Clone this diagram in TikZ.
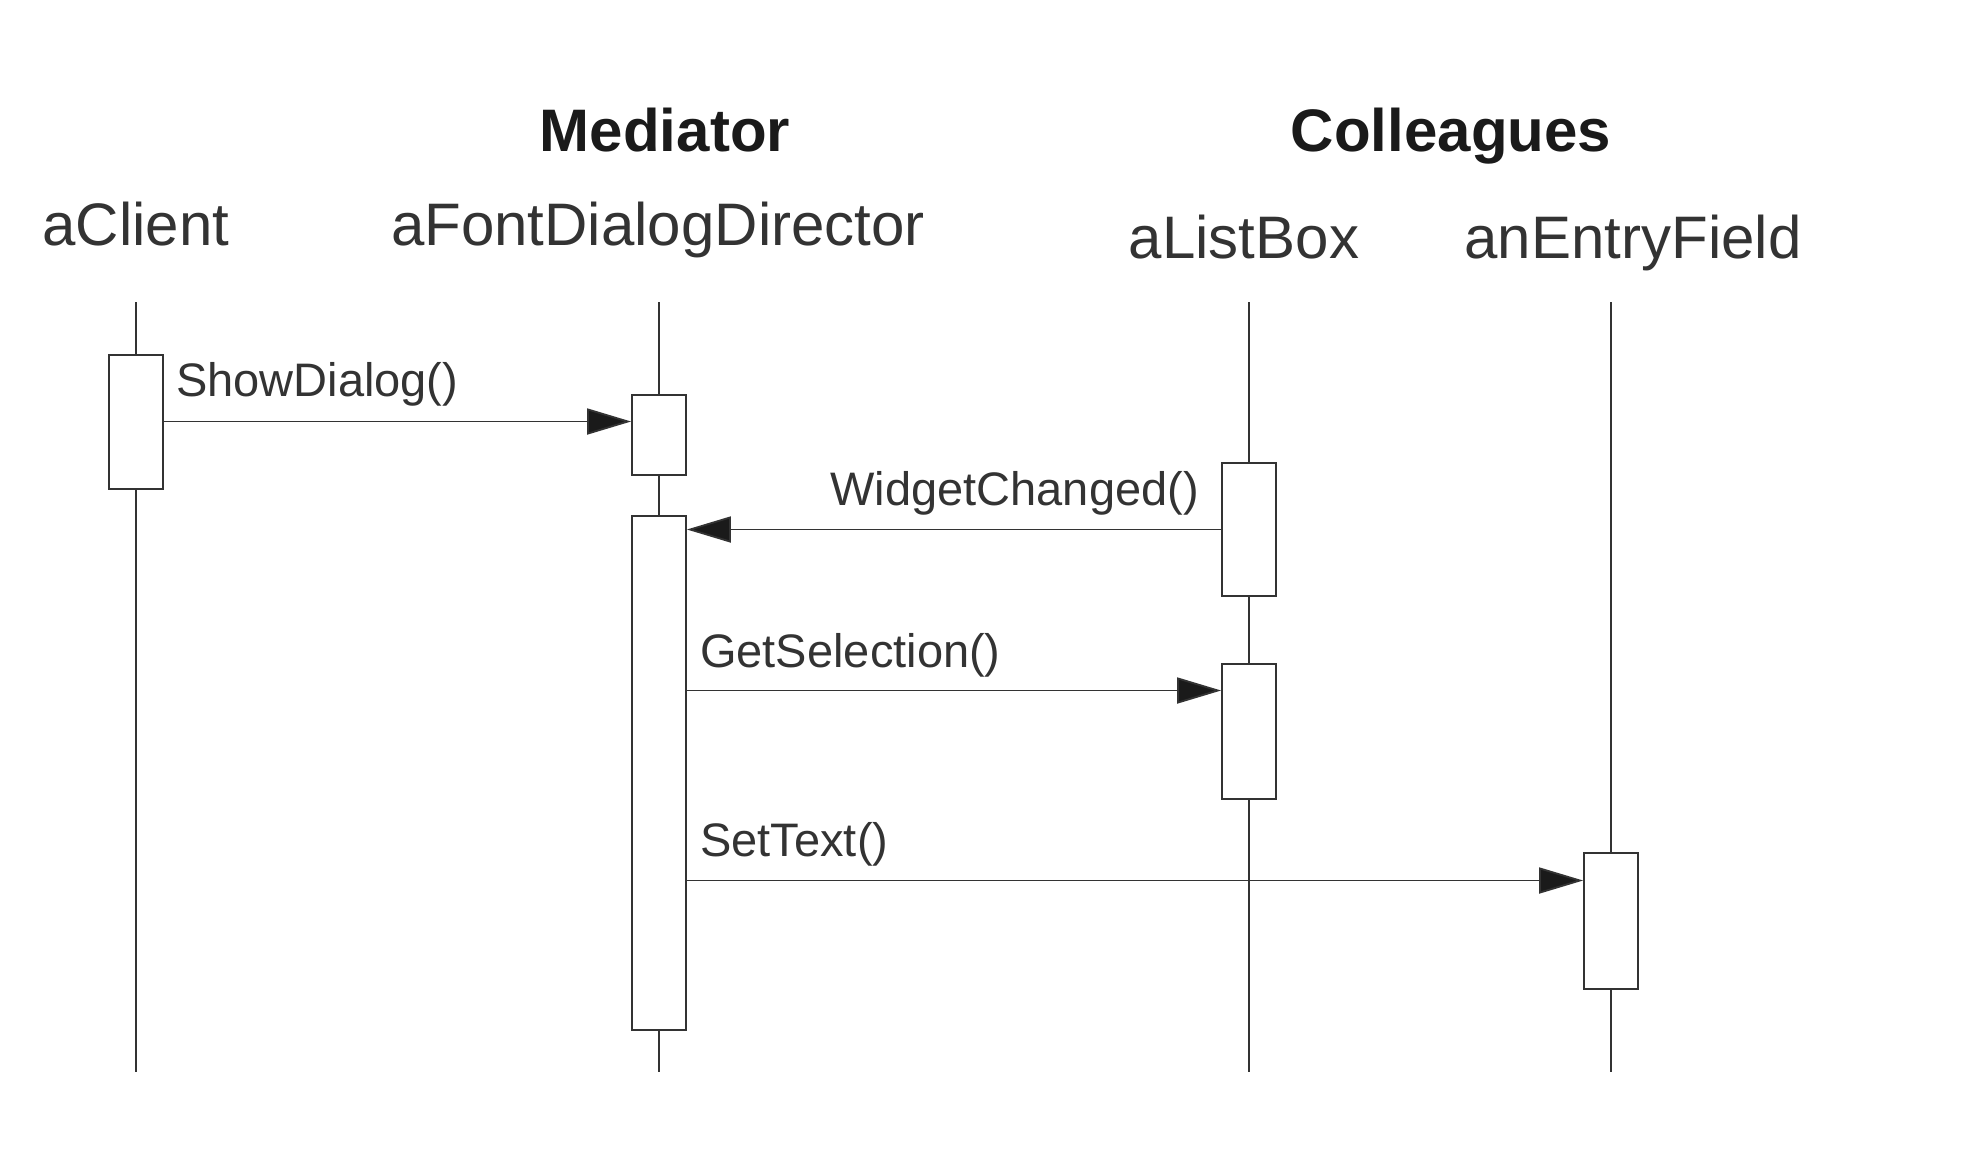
\documentclass[tikz,border=0pt]{standalone}
\usepackage{fontspec}
\setmainfont{Liberation Sans}
\usetikzlibrary{arrows.meta}
\definecolor{ink}{HTML}{333333}
\definecolor{tip}{HTML}{1A1A1A}
\begin{document}
\begin{tikzpicture}[x=1pt,y=-1pt,
  lifeline/.style={draw=ink,line width=1.8pt},
  actbox/.style={draw=ink,line width=1.8pt,fill=white,minimum width=54pt,inner sep=0pt,anchor=center},
  msg/.style={draw=ink,line width=1.8pt,-{Triangle[length=44pt,width=26pt,fill=tip]}},
  objname/.style={font=\fontsize{60}{70}\selectfont,text=ink,anchor=base,inner sep=0pt},
  group/.style={font=\fontsize{60}{70}\selectfont\bfseries,text=tip,anchor=base,inner sep=0pt},
  msglabel/.style={font=\fontsize{47}{56}\selectfont,text=ink,anchor=base,inner sep=0pt}]
\useasboundingbox[fill=white] (0,0) rectangle (1972,1160);
% group headings
\node[group] (med) at (665,151) {Mediator};
\node[group] (col) at (1451,151) {Colleagues};
% object names
\node[objname] (nc) at (136,245) {aClient};
\node[objname] (nd) at (658,245) {aFontDialogDirector};
\node[objname] (nl) at (1244,258) {aListBox};
\node[objname] (ne) at (1633,258) {anEntryField};
% lifelines
\coordinate (ct) at (136,302); \coordinate (cb) at (136,1072);
\coordinate (dt) at (659,302); \coordinate (db) at (659,1072);
\coordinate (lt) at (1249,302); \coordinate (lb) at (1249,1072);
\coordinate (et) at (1611,302); \coordinate (eb) at (1611,1072);
\draw[lifeline] (ct) -- (cb);
\draw[lifeline] (dt) -- (db);
\draw[lifeline] (lt) -- (lb);
\draw[lifeline] (et) -- (eb);
% activation boxes
\node[actbox,minimum height=134pt] (cbox) at (136,422) {};
\node[actbox,minimum height=80.5pt] (d1) at (659,435) {};
\node[actbox,minimum height=514pt] (d2) at (659,773) {};
\node[actbox,minimum height=133pt] (l1) at (1249,529.5) {};
\node[actbox,minimum height=135pt] (l2) at (1249,731.5) {};
\node[actbox,minimum height=136pt] (e1) at (1611,921) {};
% message rows
\coordinate (y1) at (0,421.5);
\coordinate (y2) at (0,529.5);
\coordinate (y3) at (0,690.5);
\coordinate (y4) at (0,880.5);
\draw[msg] (cbox.east |- y1) -- (d1.west |- y1);
\draw[msg] (l1.west |- y2) -- (d2.east |- y2);
\draw[msg] (d2.east |- y3) -- (l2.west |- y3);
\draw[msg] (d2.east |- y4) -- (e1.west |- y4);
% labels
\node[msglabel,anchor=base west] (m1) at (176,396) {ShowDialog()};
\node[msglabel,anchor=base east] (m2) at (1199,505) {WidgetChanged()};
\node[msglabel,anchor=base west] (m3) at (700,667) {GetSelection()};
\node[msglabel,anchor=base west] (m4) at (700,856) {SetText()};
\end{tikzpicture}
\end{document}
